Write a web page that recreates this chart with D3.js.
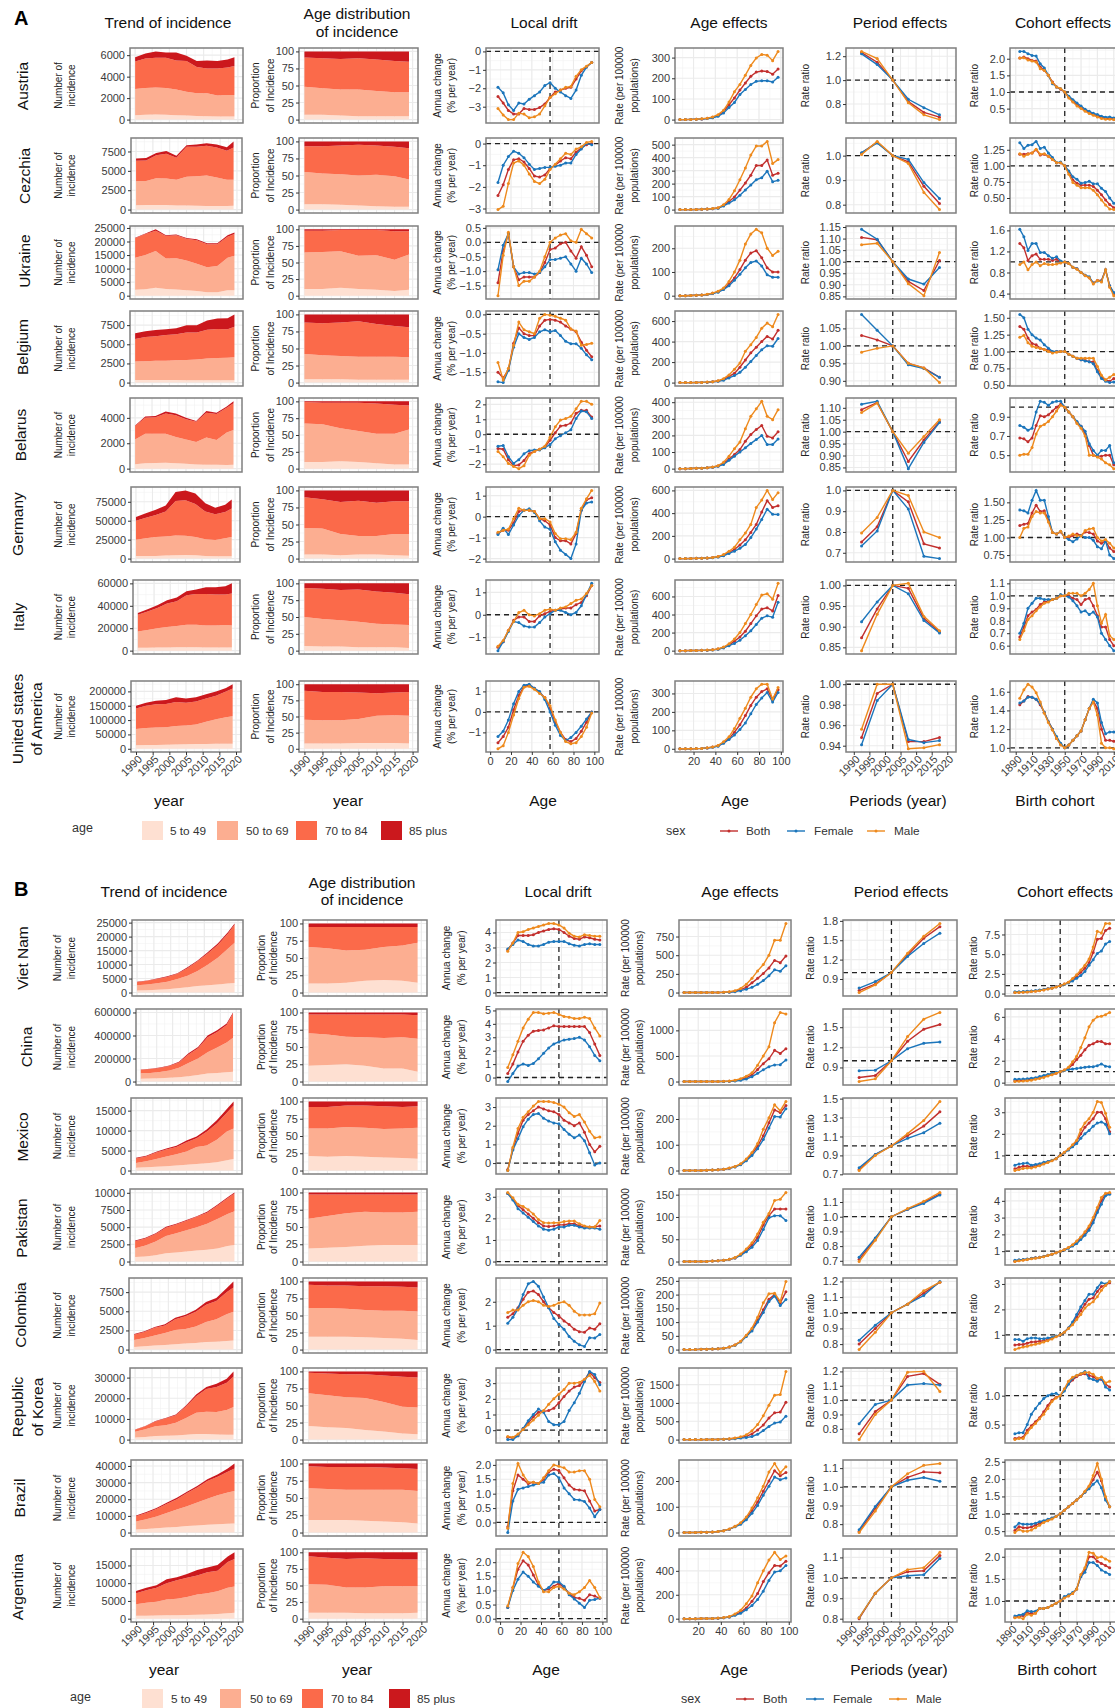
<!DOCTYPE html>
<html>
<head>
<meta charset="utf-8">
<script src="https://cdn.jsdelivr.net/npm/d3@7"></script>
<style>
  body { margin: 0; background: #fff; }
  svg { display: block; font-family: "Liberation Sans", Arial, sans-serif; }
</style>
</head>
<body>
<svg id="chart" width="1115" height="1708"></svg>
<script>
// x values shared by the panels
const trendYears = [1990,1993,1996,1999,2002,2005,2008,2011,2014,2017,2019];
const shareYears = [1990,1995,2000,2005,2010,2015,2019];
const ages = [7.5,12.5,17.5,22.5,27.5,32.5,37.5,42.5,47.5,52.5,57.5,62.5,67.5,72.5,77.5,82.5,87.5,92.5,97.5];
const periods = [1992.5,1997.5,2002.5,2007.5,2012.5,2017.5];
const cohorts = [1895,1900,1905,1910,1915,1920,1925,1930,1935,1940,1945,1950,1955,1960,1965,1970,1975,1980,1985,1990,1995,2000,2005,2010];
const ageGroups = ["5 to 49","50 to 69","70 to 84","85 plus"];
const sexes = ["Both","Female","Male"];

// Trend of incidence: running top of each age band
const austriaTrend = [[400,450,470,450,400,380,330,300,280,280,290],[2850,2950,3000,2950,2800,2600,2450,2450,2250,2300,2300],[5400,5700,5750,5750,5500,5450,4900,4750,4750,4850,5000],[5800,6150,6350,6250,6250,5950,5450,5500,5450,5600,5800]];
const cezchiaTrend = [[550,600,600,580,530,530,500,470,450,450,480],[3650,3700,4050,4000,3850,4250,4300,4400,4150,3850,3850],[6300,6350,7000,7200,6700,8100,8100,8250,8000,7600,8000],[6600,6650,7300,7550,6950,8300,8400,8550,8400,8050,8800]];
const ukraineTrend = [[2200,2400,2900,2500,2300,2000,1700,1300,1300,2000,2000],[14000,15000,16500,13700,13800,13000,11800,10500,11000,14000,14700],[21200,22800,24000,22000,22300,21000,20500,19000,19000,21800,22800],[21400,23000,24500,22300,22600,21300,20800,19400,19400,22300,23300]];
const belgiumTrend = [[330,340,350,330,330,320,320,320,310,300,300],[2750,2800,2850,2850,2900,2950,3000,3150,3200,3250,3300],[5700,5950,6050,6200,6300,6550,6550,6900,7000,6950,7300],[6450,6700,6850,6950,7100,7500,7500,8100,8350,8400,8900]];
const belarusTrend = [[350,420,450,470,420,380,330,300,300,290,300],[2300,2750,2750,2750,2500,2300,2100,2450,2250,2850,3050],[3350,4000,4050,4350,4200,3900,3700,4400,4300,4800,5150],[3400,4100,4150,4500,4350,4000,3750,4550,4400,4900,5300]];
const germanyTrend = [[3500,3500,3500,4000,4500,4800,4500,3500,3000,3000,3000],[25000,27000,28500,29000,30500,30000,28500,25500,24500,27000,28500],[50000,54000,57500,62000,76000,77000,72000,62000,58500,61500,66000],[55000,60000,64500,70000,88000,90000,86000,73000,67000,71000,78000]];
const italyTrend = [[2500,2600,2700,2900,3000,3000,3000,2900,2800,2700,2700],[17000,18500,20000,21000,22000,23000,23000,22500,22500,22800,22500],[32000,35000,38000,42000,44000,49500,50500,50500,50000,50000,51000],[33500,37000,40500,45000,47500,53000,54500,56500,56500,57500,60000]];
const usaTrend = [[12000,13000,13500,14000,15000,15500,16500,17000,17500,17500,17500],[69000,72000,74000,75000,79000,81000,85000,94000,103000,110000,113000],[140000,150000,155000,156000,163000,160000,165000,175000,185000,200000,210000],[150000,160000,167000,170000,180000,175000,180000,190000,200000,212000,225000]];
const vietnamTrend = [[700,800,1000,1200,1500,1900,2300,2600,2900,3200,3400],[2600,2900,3300,3900,4800,6000,7700,9900,12400,15700,17800],[3700,4200,4800,5600,6700,8700,11200,14000,17000,21000,24200],[3900,4350,5000,5800,6900,9000,11500,14400,17500,21600,24700]];
const chinaTrend = [[25000,26000,28000,33000,38000,45000,56000,70000,75000,80000,85000],[72000,75000,82000,95000,120000,160000,200000,255000,295000,340000,380000],[103000,108000,118000,135000,165000,235000,290000,385000,430000,490000,590000],[105000,111000,122000,140000,172000,245000,300000,400000,445000,505000,600000]];
const mexicoTrend = [[700,800,950,1100,1250,1450,1650,1800,2100,2600,2900],[1900,2300,2900,3500,4100,4800,5900,6300,7700,9800,10500],[3000,3500,4500,5300,5900,7100,8100,9700,11800,14500,16300],[3200,3700,4700,5500,6200,7500,8500,10300,12600,15400,17300]];
const pakistanTrend = [[650,750,900,1200,1300,1450,1600,1700,1900,2250,2400],[1950,2350,2900,3700,4100,4550,5000,5500,6200,6900,7300],[2950,3350,4000,4900,5400,5950,6500,7100,8100,9200,9900],[3050,3450,4100,5050,5500,6050,6600,7250,8250,9350,10050]];
const colombiaTrend = [[350,420,520,600,700,780,850,1000,1030,1130,1200],[1250,1500,1850,2150,2550,2700,3000,3600,3950,4600,4950],[1950,2300,2850,3150,3950,4350,4950,5850,6350,7500,8100],[2050,2400,2950,3300,4150,4550,5200,6200,6750,8000,8900]];
const koreaTrend = [[1000,1200,1700,1800,2000,2300,2700,2700,2500,2300,2400],[3800,5000,6400,7000,8200,10500,13000,13500,13300,14300,15800],[4800,6500,8800,10200,11800,16000,21000,24500,25500,27500,30500],[4900,6600,9000,10400,12200,16500,21800,25500,27000,29500,33000]];
const brazilTrend = [[1900,2200,2600,3000,3400,4000,4300,4700,5000,5300,5500],[6700,8000,9700,11800,13800,15800,18000,20300,22400,24000,25000],[9800,11800,14200,17200,20000,23700,27000,31000,33500,36500,38500],[10300,12300,14800,17900,20900,24500,28000,32000,34900,38500,41500]];
const argentinaTrend = [[850,850,900,950,1000,1050,1100,1200,1300,1500,1700],[4100,4500,4800,5400,5600,6100,6800,7200,7700,8700,9100],[7200,8000,8700,10000,10800,11500,12200,13100,13500,16000,16800],[7800,8700,9400,11100,11700,12600,13700,14400,15100,17500,18700]];

// Age distribution: running share at each boundary, the last band reaches 100
const austriaShare = [[7,7,6,5,5,5,5],[48,46,44,44,42,40,40],[91,90,89,90,88,86,85],[100,100,100,100,100,100,100]];
const cezchiaShare = [[8,8,7,6,5,4,4],[55,53,52,50,51,49,44],[93,93,94,95,94,92,90],[100,100,100,100,100,100,100]];
const ukraineShare = [[10,10,12,10,9,7,9],[65,66,67,60,61,54,62],[98,98,99,99,99,97,97],[100,100,100,100,100,100,100]];
const belgiumShare = [[5,5,5,4,4,4,4],[42,40,39,38,38,38,37],[88,87,88,90,86,83,81],[100,100,100,100,100,100,100]];
const belarusShare = [[10,10,11,10,8,6,6],[67,66,60,56,52,52,58],[99,98,98,98,97,95,94],[100,100,100,100,100,100,100]];
const germanyShare = [[6,6,5,6,6,5,4],[45,44,36,33,33,36,36],[90,87,83,85,82,84,84],[100,100,100,100,100,100,100]];
const italyShare = [[7,6,6,5,5,5,4],[50,47,45,43,40,39,38],[93,92,90,91,88,86,84],[100,100,100,100,100,100,100]];
const usaShare = [[8,8,8,9,9,9,8],[45,44,44,46,51,52,51],[90,88,88,87,86,87,88],[100,100,100,100,100,100,100]];
const vietnamShare = [[13,13,14,17,18,17,14],[66,64,61,62,66,68,72],[95,95,95,95,95,95,95],[100,100,100,100,100,100,100]];
const chinaShare = [[23,24,25,23,19,19,14],[70,68,65,64,63,64,62],[97,97,97,97,97,97,96],[100,100,100,100,100,100,100]];
const mexicoShare = [[21,20,21,20,19,18,17],[61,61,63,62,60,61,62],[92,92,94,94,93,92,93],[100,100,100,100,100,100,100]];
const pakistanShare = [[19,20,21,23,24,24,24],[62,66,70,72,71,71,72],[97,97,97,97,97,97,97],[100,100,100,100,100,100,100]];
const colombiaShare = [[19,19,19,18,17,16,14],[61,61,60,58,57,57,56],[95,94,94,93,93,92,91],[100,100,100,100,100,100,100]];
const koreaShare = [[20,18,17,14,12,9,8],[68,65,62,61,55,48,47],[98,97,96,96,94,92,91],[100,100,100,100,100,100,100]];
const brazilShare = [[18,18,18,17,16,15,13],[64,63,62,62,62,62,60],[96,95,95,95,94,93,92],[100,100,100,100,100,100,100]];
const argentinaShare = [[9,9,9,8,8,8,9],[52,51,47,47,49,49,49],[94,92,90,91,90,89,89],[100,100,100,100,100,100,100]];

// Local drift: Both, Female, Male
const austriaDrift = [[-2.45,-2.8,-3.2,-3.4,-3.4,-3.1,-3.15,-3.15,-3.05,-2.85,-2.5,-2.2,-2.1,-2,-1.95,-1.5,-1.05,-.85,-.6],[-1.95,-2.25,-2.9,-3.2,-2.8,-2.85,-2.6,-2.4,-2.2,-1.85,-1.7,-2,-2.2,-2.4,-2.55,-2.1,-1.3,-.85,-.6],[-3.1,-3.45,-3.7,-3.7,-3.35,-3.4,-3.6,-3.55,-3.4,-2.95,-2.5,-2.3,-2.1,-1.95,-1.9,-1.35,-1,-.8,-.6]];
const cezchiaDrift = [[-2.4,-1.9,-1.2,-.75,-.7,-.85,-1.15,-1.5,-1.55,-1.45,-1.15,-1,-.8,-.65,-.7,-.4,-.2,-.05,0],[-1.8,-1,-.6,-.35,-.45,-.65,-.95,-1.2,-1.15,-1.1,-1.1,-1.05,-1,-.9,-.9,-.5,-.25,0,-.05],[-3.05,-2.9,-1.85,-.9,-.8,-1,-1.4,-1.75,-1.85,-1.65,-1.2,-.95,-.7,-.45,-.5,-.25,-.15,.05,.1]];
const ukraineDrift = [[-1.4,-.3,.3,-.85,-1.3,-1.2,-1.2,-1.2,-1.05,-.7,-.25,-.2,-.05,0,-.3,-.55,-.15,-.45,-.85],[-.95,-.1,.3,-.85,-1.1,-1.05,-1.05,-1.1,-1.05,-.85,-.6,-.6,-.55,-.5,-.75,-1,-.55,-.75,-1.05],[-1.85,-.45,.35,-.85,-1.5,-1.35,-1.35,-1.2,-1,-.5,0,.15,.25,.3,.05,0,.45,.3,.15]];
const belgiumDrift = [[-1.5,-1.65,-1.45,-.75,-.35,-.5,-.55,-.55,-.3,-.15,-.13,-.15,-.2,-.3,-.38,-.45,-.72,-.93,-1.1],[-1.75,-1.77,-1.45,-.85,-.5,-.6,-.65,-.6,-.45,-.4,-.45,-.42,-.55,-.7,-.76,-.76,-.88,-1.05,-1.18],[-1.25,-1.7,-1.4,-.8,-.2,-.4,-.45,-.5,-.1,0,-.02,-.05,-.1,-.15,-.38,-.43,-.8,-.78,-.75]];
const belarusDrift = [[-.95,-1,-1.7,-2.1,-2.05,-1.75,-1.3,-1.15,-1,-.85,-.4,.1,.55,.6,.75,1.4,1.6,1.6,1.15],[-.8,-.75,-1.5,-1.95,-1.7,-1.3,-1.1,-1.05,-1.05,-.9,-.7,-.3,-.1,.1,.3,1.05,1.55,1.5,1.05],[-1.15,-1.5,-1.95,-2.15,-2.3,-2.1,-1.4,-1.15,-1,-.8,-.2,.5,.95,1.05,1.2,1.7,2.2,2.2,2]];
const germanyDrift = [[-.8,-.65,-.65,-.3,.25,.3,.3,.25,-.1,-.2,-.4,-1,-1.15,-1.15,-1.3,-.8,.3,.8,.9],[-.85,-.55,-.85,-.4,.05,.3,.38,.2,-.2,-.5,-.6,-1.2,-1.6,-1.8,-2,-1.3,.3,.65,.7],[-.75,-.65,-.6,-.1,.4,.3,.3,.25,-.1,-.1,-.25,-.8,-1.05,-1.05,-1.1,-.75,.4,.85,1.25]];
const italyDrift = [[-1.45,-1.2,-.7,-.25,-.1,-.1,-.3,-.3,-.05,.05,.15,.2,.25,.3,.3,.45,.55,.85,1.3],[-1.6,-1.2,-.75,-.3,-.35,-.5,-.55,-.55,-.35,-.1,.05,.2,.2,.1,0,.1,.4,.9,1.4],[-1.4,-1.15,-.7,-.3,.1,.2,0,-.05,.05,.2,.25,.2,.3,.35,.5,.65,.7,.95,1.3]];
const usaDrift = [[-1.5,-1.2,-.75,.1,.8,1.25,1.3,1.15,.95,.7,.2,-.5,-1,-1.35,-1.45,-1.3,-.95,-.5,0],[-1.2,-.95,-.4,.4,1,1.3,1.35,1.15,1,.6,0,-.65,-1.15,-1.4,-1.25,-1,-.7,-.35,0],[-1.8,-1.65,-1,-.15,.65,1.2,1.25,1.1,.9,.7,.3,-.4,-1,-1.45,-1.55,-1.5,-1.2,-.75,-.05]];
const vietnamDrift = [[2.85,3.3,3.8,3.8,3.8,3.85,4,4.1,4.2,4.25,4.2,4,3.75,3.6,3.55,3.7,3.65,3.55,3.5],[2.9,3.2,3.5,3.4,3.2,3.1,3.1,3.2,3.35,3.4,3.4,3.4,3.25,3.15,3.1,3.2,3.25,3.2,3.2],[2.75,3.3,4,4.05,4.2,4.3,4.4,4.5,4.6,4.6,4.5,4.3,3.95,3.75,3.7,3.85,3.8,3.75,3.75]];
const chinaDrift = [[.3,1,1.9,2.7,3.15,3.45,3.5,3.55,3.7,3.85,3.8,3.8,3.8,3.8,3.8,3.8,3.35,2.5,1.65],[-.3,.3,.85,1,.9,1.05,1.4,1.8,2.2,2.5,2.65,2.8,2.85,2.9,3,2.8,2.3,1.65,1.25],[.75,1.7,2.7,3.7,4.35,4.85,4.85,4.75,4.8,4.85,4.7,4.55,4.5,4.4,4.4,4.5,4.4,3.7,3.1]];
const mexicoDrift = [[-.35,.75,1.6,2.3,2.6,2.8,3,2.9,2.8,2.75,2.6,2.3,2.15,2,2.15,1.65,1,.6,.9],[-.4,.7,1.3,1.95,2.35,2.6,2.65,2.4,2.25,2.15,2.1,1.8,1.55,1.35,1.5,1.2,.55,-.1,0],[-.4,.85,1.85,2.45,2.75,3.05,3.3,3.3,3.3,3.25,3.15,3,2.7,2.5,2.6,2.2,1.7,1.35,1.4]];
const pakistanDrift = [[3.15,2.9,2.6,2.4,2.2,2,1.8,1.65,1.62,1.65,1.7,1.7,1.75,1.75,1.65,1.6,1.6,1.6,1.65],[3.15,2.85,2.45,2.25,2.05,1.85,1.65,1.5,1.45,1.5,1.6,1.6,1.68,1.68,1.6,1.55,1.55,1.55,1.5],[3.2,2.95,2.65,2.55,2.4,2.2,1.95,1.8,1.78,1.8,1.8,1.85,1.88,1.88,1.75,1.65,1.6,1.6,1.9]];
const colombiaDrift = [[1.35,1.5,1.75,2.1,2.4,2.45,2.3,2,1.75,1.55,1.4,1.2,1.05,.85,.75,.72,.9,.85,1.08],[1.1,1.35,1.7,2.3,2.75,2.85,2.65,2.2,1.75,1.3,1.05,.85,.55,.35,.2,.13,.5,.48,.63],[1.55,1.65,1.65,1.85,2,2.05,2,1.85,1.8,1.85,1.95,2,1.85,1.6,1.45,1.45,1.45,1.5,1.95]];
const koreaDrift = [[-.45,-.5,-.35,.1,.45,.85,1.15,1.2,1.25,1.4,1.75,2.15,2.5,2.75,2.85,3.2,3.7,3.35,3.05],[-.6,-.6,-.35,.1,.6,1,1.35,1.15,.55,.35,.35,.55,1.25,1.75,2.35,3.1,3.75,3.55,2.9],[-.4,-.45,-.25,.05,.35,.65,.95,1.25,1.65,2,2.3,2.6,3,3,3.05,3.25,3.5,3.1,2.5]];
const brazilDrift = [[-.15,1.1,1.65,1.5,1.35,1.4,1.35,1.5,1.75,1.85,1.8,1.55,1.3,1.15,1.13,1.1,.75,.4,.45],[-.35,.75,1.15,1.2,1.25,1.3,1.35,1.4,1.65,1.7,1.55,1.2,1,.8,.78,.73,.5,.2,.45],[-.2,1.35,2.05,1.65,1.4,1.4,1.35,1.55,1.8,2,1.95,1.9,1.75,1.75,1.8,1.8,1.5,.8,.55]];
const argentinaDrift = [[.4,1.1,1.75,2.05,1.9,1.55,1.2,1,1.05,1.15,1.25,1.1,.9,.75,.72,.65,.85,.8,.72],[.4,1,1.4,1.65,1.5,1.3,1.15,1,1.1,1.3,1.3,1.15,.85,.7,.55,.4,.65,.68,.73],[.45,1.1,1.95,2.35,2.2,1.85,1.3,.95,.95,1.1,1.15,1.05,.9,.85,.95,1.1,1.35,1.1,.75]];

// Age effects: Both, Female, Male
const austriaAgeFx = [[0,0,1,2,3,6,11,20,38,72,105,143,177,210,230,235,233,220,245],[0,0,1,2,3,5,9,16,32,58,83,122,146,170,185,188,188,182,205],[0,0,1,2,4,7,13,24,45,85,135,170,215,262,298,315,312,285,330]];
const cezchiaAgeFx = [[0,0,0,1,2,4,7,12,33,62,97,150,205,265,340,340,382,265,280],[0,0,0,1,2,4,6,10,28,50,75,110,150,190,230,245,295,215,225],[0,0,0,1,2,5,8,14,38,78,145,230,320,420,490,490,525,355,385]];
const ukraineAgeFx = [[0,0,1,2,3,5,10,17,28,48,75,110,150,180,190,160,118,100,100],[0,0,1,2,3,5,9,15,26,42,65,90,118,140,146,125,88,78,78],[0,0,1,2,3,6,11,19,32,60,100,150,218,260,280,265,200,170,187]];
const belgiumAgeFx = [[0,0,0,1,2,4,8,15,30,60,90,150,220,290,345,400,450,425,510],[0,0,0,1,2,4,7,12,22,45,68,100,150,205,265,320,360,355,430],[0,0,0,1,2,5,9,18,38,75,130,190,305,370,440,530,580,545,665]];
const belarusAgeFx = [[0,0,1,2,3,5,9,16,30,58,85,115,165,205,235,260,195,185,222],[0,0,1,2,3,5,8,14,25,50,75,100,125,152,175,200,145,145,178],[0,0,1,2,3,5,10,18,38,75,120,160,240,315,360,405,315,295,355]];
const germanyAgeFx = [[0,0,1,2,3,5,9,16,30,55,80,120,165,230,300,410,510,450,465],[0,0,1,2,3,5,8,14,25,45,65,90,125,185,260,345,435,390,388],[0,0,1,2,3,6,10,18,35,65,100,165,225,300,450,515,600,520,580]];
const italyAgeFx = [[0,0,1,2,3,5,9,17,35,62,105,150,215,300,385,460,475,440,610],[0,0,1,2,3,5,8,15,30,55,80,115,165,220,290,360,385,370,535],[0,0,1,2,3,6,10,20,40,75,130,200,300,400,510,615,630,570,745]];
const usaAgeFx = [[0,0,0,1,2,4,9,16,32,55,90,130,180,235,280,310,325,265,320],[0,0,0,1,2,4,8,14,30,50,75,105,140,190,240,275,305,253,305],[0,0,0,1,2,5,10,18,38,65,110,165,220,280,325,350,350,270,332]];
const vietnamAgeFx = [[0,0,0,0,0,0,1,3,8,18,40,70,130,190,255,330,430,400,490],[0,0,0,0,0,0,1,2,4,12,25,45,70,110,160,225,305,285,360],[0,0,0,0,0,0,1,4,10,25,55,110,190,290,375,500,700,700,925]];
const chinaAgeFx = [[0,0,0,0,0,0,1,3,8,18,40,75,130,235,350,445,610,550,640],[0,0,0,0,0,0,1,2,5,12,25,50,95,160,230,290,325,330,420],[0,0,0,0,0,0,1,4,10,25,55,105,170,320,500,680,1150,1350,1320]];
const mexicoAgeFx = [[0,0,0,0,1,2,3,5,9,15,24,42,65,95,135,185,235,225,252],[0,0,0,0,1,2,3,5,9,14,22,38,58,85,120,165,210,208,240],[0,0,0,0,1,2,3,5,10,16,26,45,70,105,160,205,255,232,268]];
const pakistanAgeFx = [[0,0,0,0,0,1,2,3,5,8,15,25,37,54,82,103,118,118,118],[0,0,0,0,0,1,2,3,5,8,14,22,32,47,72,98,103,103,92],[0,0,0,0,0,1,2,3,5,9,17,28,42,62,88,108,137,140,155]];
const colombiaAgeFx = [[0,0,0,1,1,2,3,5,9,17,29,50,72,108,145,183,200,170,210],[0,0,0,1,1,2,3,5,9,16,28,48,68,100,135,175,195,160,182],[0,0,0,1,1,2,3,5,9,17,30,52,78,118,170,203,205,175,248]];
const koreaAgeFx = [[0,0,0,0,1,2,5,10,18,35,55,90,155,260,400,590,730,750,1020],[0,0,0,0,1,2,4,8,15,25,40,55,85,145,245,360,450,480,640],[0,0,0,0,1,2,5,12,22,45,75,130,240,410,650,940,1210,1230,1860]];
const brazilAgeFx = [[0,0,0,1,1,2,4,7,13,23,35,55,85,118,160,200,240,220,233],[0,0,0,1,1,2,4,7,13,22,32,50,75,105,145,180,215,205,212],[0,0,0,1,1,2,4,7,14,24,38,60,95,135,180,235,268,232,255]];
const argentinaAgeFx = [[0,0,0,1,1,2,4,8,15,32,55,90,145,210,310,385,445,440,480],[0,0,0,1,1,2,4,7,14,28,45,75,110,160,230,320,390,400,445],[0,0,0,1,1,2,5,9,18,40,70,125,190,300,400,490,555,495,525]];

// Period effects: Both, Female, Male
const austriaPeriod = [[1.23,1.15,1,.82,.73,.69],[1.22,1.13,1,.84,.77,.71],[1.24,1.18,1,.81,.71,.67]];
const cezchiaPeriod = [[1.01,1.055,1,.975,.875,.805],[1.012,1.052,1,.985,.89,.825],[1.005,1.058,1,.968,.85,.78]];
const ukrainePeriod = [[1.105,1.095,1,.915,.875,1.005],[1.14,1.097,1,.925,.903,.975],[1.073,1.08,1,.905,.853,1.04]];
const belgiumPeriod = [[1.03,1.017,1,.95,.937,.91],[1.09,1.045,1,.946,.935,.91],[.982,.993,1,.95,.937,.895]];
const belarusPeriod = [[1.092,1.122,1,.875,.965,1.042],[1.115,1.127,1,.845,.955,1.038],[1.08,1.12,1,.91,.98,1.05]];
const germanyPeriod = [[.752,.825,1,.945,.743,.723],[.733,.805,1,.91,.683,.672],[.795,.87,1,.975,.8,.773]];
const italyPeriod = [[.873,.943,1,.993,.92,.888],[.912,.96,1,.98,.915,.885],[.842,.93,1,1.005,.925,.89]];
const usaPeriod = [[.948,.991,1,.944,.944,.948],[.941,.984,1,.946,.943,.945],[.956,1,1,.937,.938,.941]];
const vietnamPeriod = [[.72,.82,1,1.27,1.53,1.71],[.76,.86,1,1.25,1.45,1.61],[.69,.81,1,1.3,1.56,1.76]];
const chinaPeriod = [[.75,.78,1,1.29,1.47,1.54],[.85,.86,1,1.18,1.26,1.28],[.69,.73,1,1.36,1.62,1.72]];
const mexicoPeriod = [[.75,.91,1,1.11,1.21,1.36],[.77,.91,1,1.08,1.14,1.24],[.74,.9,1,1.13,1.27,1.47]];
const pakistanPeriod = [[.71,.85,1,1.05,1.1,1.155],[.725,.855,1,1.05,1.09,1.148],[.695,.84,1,1.055,1.105,1.165]];
const colombiaPeriod = [[.8,.9,1,1.055,1.125,1.195],[.825,.92,1,1.055,1.11,1.2],[.765,.875,1,1.055,1.14,1.195]];
const koreaPeriod = [[.765,.92,1,1.165,1.185,1.11],[.835,.97,1,1.105,1.115,1.105],[.725,.9,1,1.195,1.2,1.06]];
const brazilPeriod = [[.76,.885,1,1.05,1.08,1.075],[.77,.895,1,1.035,1.05,1.03],[.755,.87,1,1.07,1.115,1.125]];
const argentinaPeriod = [[.8,.925,1,1.03,1.035,1.11],[.805,.925,1,1.01,1.015,1.095],[.805,.925,1,1.04,1.05,1.125]];

// Cohort effects: Both, Female, Male
const austriaCohort = [[2.02,2.05,2,1.95,1.93,1.75,1.65,1.5,1.3,1.15,1.08,1,.85,.72,.62,.53,.45,.38,.33,.28,.24,.2,.2,.18],[2.22,2.22,2.15,2.1,2.08,1.85,1.72,1.5,1.25,1.15,1.1,1,.87,.77,.67,.58,.48,.42,.36,.32,.27,.24,.25,.22],[2.02,2.03,1.96,1.93,1.9,1.7,1.65,1.5,1.28,1.15,1.1,1,.82,.7,.58,.5,.42,.35,.3,.25,.2,.18,.18,.17]];
const cezchiaCohort = [[1.18,1.18,1.19,1.2,1.25,1.17,1.18,1.15,1.1,1.05,1.05,1,.9,.78,.73,.7,.7,.7,.68,.62,.55,.47,.4,.35],[1.36,1.27,1.32,1.33,1.38,1.27,1.29,1.2,1.13,1.05,1.06,1,.92,.83,.79,.73,.74,.76,.72,.72,.65,.6,.5,.42],[1.19,1.15,1.18,1.2,1.26,1.18,1.19,1.15,1.1,1.05,1.05,1,.87,.74,.7,.66,.66,.66,.62,.55,.47,.39,.33,.32]];
const ukraineCohort = [[1.35,1.27,1.03,1.12,1.15,1.05,1.05,1.05,1.03,1.05,1,1,.97,.9,.87,.8,.75,.7,.6,.65,.65,.85,.55,.4],[1.62,1.48,1.22,1.35,1.35,1.18,1.18,1.12,1.07,1.1,1.02,1,.97,.9,.87,.8,.75,.72,.6,.64,.64,.85,.55,.42],[.95,1,.85,.95,1,.93,.97,.95,.95,.96,.98,1,.97,.9,.86,.8,.74,.7,.58,.65,.62,.85,.52,.36]];
const belgiumCohort = [[1.37,1.33,1.2,1.12,1.1,1.05,1.03,1.02,.99,1,1,1,.96,.93,.9,.88,.87,.85,.85,.72,.62,.58,.56,.6],[1.55,1.5,1.33,1.25,1.2,1.17,1.1,1.05,1,1,1,1,.96,.93,.9,.88,.86,.85,.82,.7,.6,.56,.54,.55],[1.21,1.24,1.13,1.08,1.06,1.05,1.03,1,.98,.99,1,1,.96,.93,.9,.9,.9,.9,.9,.78,.65,.58,.62,.66]];
const belarusCohort = [[.68,.67,.64,.68,.81,.91,.9,.92,.96,1,1.03,1,.95,.9,.84,.8,.72,.6,.5,.49,.49,.5,.5,.4],[.81,.79,.76,.78,.95,1.06,1.05,1.02,1.05,1.06,1.06,1,.95,.9,.85,.8,.75,.62,.55,.5,.55,.55,.6,.42],[.5,.51,.51,.58,.72,.8,.82,.85,.9,.96,1.02,1,.95,.9,.83,.78,.7,.5,.5,.48,.46,.42,.4,.36]];
const germanyCohort = [[1.17,1.19,1.2,1.35,1.46,1.37,1.38,1.25,1.07,1.05,1.08,1,1,1.03,1.05,1.03,1.08,1.07,1.05,.95,.92,.95,.85,.8],[1.39,1.38,1.35,1.53,1.67,1.53,1.53,1.3,1.07,1.05,1.09,1,.97,.94,.98,1.03,1,1,.96,.87,.84,.95,.75,.7],[1,1.13,1.15,1.3,1.37,1.35,1.35,1.22,1.07,1.05,1.09,1,1.02,1.05,1.03,1.02,1.1,1.12,1.13,1,.95,.97,.92,.85]];
const italyCohort = [[.67,.75,.84,.87,.89,.93,.95,.96,.97,.98,1,1,1,.98,.97,.93,.97,.98,.92,.84,.75,.75,.65,.6],[.7,.78,.9,.94,.98,.98,.97,.97,.97,.98,1.01,1,.99,.96,.92,.87,.88,.85,.87,.83,.7,.65,.6,.56],[.65,.72,.81,.84,.88,.91,.94,.95,.97,.98,1,1,1.02,1.02,1.02,1,1.02,1.05,1.1,.92,.78,.85,.68,.65]];
const usaCohort = [[1.46,1.5,1.55,1.54,1.52,1.46,1.38,1.28,1.2,1.1,1.04,1,1.03,1.08,1.13,1.18,1.3,1.42,1.5,1.42,1.2,1.08,1.08,1.07],[1.48,1.5,1.54,1.54,1.52,1.47,1.38,1.28,1.2,1.12,1.05,1,1.03,1.08,1.13,1.18,1.3,1.42,1.52,1.48,1.27,1.15,1.17,1.17],[1.53,1.62,1.68,1.65,1.59,1.49,1.37,1.27,1.19,1.1,1.03,1,1.03,1.08,1.13,1.18,1.3,1.42,1.49,1.35,1.05,1,1,.99]];
const vietnamCohort = [[.15,.17,.2,.24,.28,.33,.4,.48,.6,.7,.85,1,1.2,1.4,1.75,2.2,2.7,3.2,3.9,5.2,6.9,7,8,8.3],[.22,.24,.26,.3,.33,.38,.45,.52,.62,.72,.85,1,1.15,1.35,1.6,1.95,2.3,2.8,3.6,4.3,5.1,5.4,6.3,6.6],[.13,.15,.17,.2,.25,.3,.37,.45,.57,.68,.83,1,1.2,1.45,1.9,2.4,3,3.6,4.4,5.9,7.9,7.7,8.9,8.9]];
const chinaCohort = [[.17,.2,.22,.25,.3,.35,.45,.55,.65,.75,.85,1,1.15,1.3,1.65,2.1,2.5,3,3.4,3.55,3.75,3.75,3.55,3.55],[.3,.32,.33,.35,.4,.45,.55,.65,.75,.85,.95,1,1.1,1.2,1.25,1.3,1.35,1.4,1.45,1.45,1.55,1.7,1.5,1.45],[.1,.12,.14,.17,.22,.3,.38,.48,.6,.72,.85,1,1.15,1.4,1.9,2.4,3.2,4.1,5.1,5.7,6,6.05,6.2,6.4]];
const mexicoCohort = [[.38,.45,.5,.5,.48,.52,.57,.63,.7,.77,.85,1,1.13,1.28,1.45,1.65,2,2.3,2.5,2.7,3,3,2.7,2.1],[.55,.6,.63,.65,.55,.58,.62,.68,.72,.78,.85,1,1.12,1.25,1.4,1.55,1.8,2,2.15,2.35,2.5,2.55,2.45,2],[.3,.35,.4,.42,.42,.47,.52,.6,.67,.75,.85,1,1.15,1.3,1.5,1.7,2.2,2.5,2.7,3,3.5,3.45,2.95,2.3]];
const pakistanCohort = [[.4,.45,.48,.52,.56,.6,.63,.68,.75,.82,.9,1,1.08,1.2,1.35,1.55,1.8,2.05,2.4,2.85,3.4,4,4.4,4.45],[.45,.48,.5,.53,.57,.6,.63,.68,.75,.82,.9,1,1.07,1.18,1.3,1.45,1.7,1.95,2.25,2.7,3.3,3.8,4.3,4.4],[.38,.42,.46,.5,.55,.58,.62,.67,.74,.82,.9,1,1.09,1.22,1.38,1.6,1.85,2.15,2.5,3,3.6,4.2,4.45,4.5]];
const colombiaCohort = [[.6,.62,.62,.67,.72,.73,.75,.77,.82,.87,.93,1,1.1,1.27,1.45,1.7,1.95,2.2,2.4,2.45,2.7,2.9,2.95,3.05],[.82,.82,.75,.85,.88,.88,.85,.85,.88,.9,.95,1,1.1,1.27,1.5,1.8,2.1,2.35,2.6,2.6,2.85,3.05,3,3.1],[.42,.48,.52,.55,.6,.63,.67,.72,.77,.84,.92,1,1.1,1.25,1.4,1.6,1.8,2.05,2.2,2.3,2.5,2.75,2.95,3.1]];
const koreaCohort = [[.26,.27,.28,.4,.48,.55,.62,.72,.83,.92,.97,1,1.1,1.2,1.27,1.33,1.37,1.38,1.35,1.33,1.28,1.28,1.2,1.15],[.34,.36,.36,.5,.68,.78,.87,.95,1,1.03,1.04,1,1.08,1.2,1.3,1.35,1.38,1.42,1.3,1.28,1.25,1.3,1.15,1.1],[.24,.26,.26,.36,.45,.52,.6,.68,.78,.9,.96,1,1.12,1.25,1.32,1.35,1.38,1.4,1.4,1.37,1.3,1.32,1.22,1.25]];
const brazilCohort = [[.52,.63,.6,.6,.62,.67,.72,.77,.82,.87,.93,1,1.1,1.2,1.3,1.4,1.5,1.63,1.78,1.98,2.2,1.95,1.45,1.2],[.62,.73,.7,.7,.7,.73,.77,.8,.84,.88,.93,1,1.1,1.2,1.3,1.4,1.5,1.62,1.72,1.85,1.95,1.75,1.4,1.2],[.46,.55,.5,.5,.53,.6,.67,.75,.8,.85,.92,1,1.1,1.2,1.3,1.4,1.5,1.65,1.8,2.1,2.45,2,1.5,1.2]];
const argentinaCohort = [[.63,.65,.67,.73,.72,.73,.83,.83,.85,.9,.95,1,1.08,1.12,1.17,1.27,1.55,1.72,2,2,1.9,1.85,1.8,1.75],[.66,.68,.7,.78,.76,.77,.83,.83,.85,.9,.95,1,1.1,1.14,1.19,1.27,1.55,1.65,1.87,1.87,1.8,1.7,1.65,1.6],[.62,.63,.6,.7,.68,.72,.83,.83,.85,.9,.95,1,1.07,1.11,1.17,1.27,1.6,1.75,2.1,2.08,1.98,2,1.95,1.9]];

// y tick labels, one list per country, A then B
const trendTicks = [[0,2000,4000,6000],[0,2500,5000,7500],[0,5000,10000,15000,20000,25000],[0,2500,5000,7500],[0,2000,4000],[0,25000,50000,75000],[0,20000,40000,60000],[0,50000,100000,150000,200000],
  [0,5000,10000,15000,20000,25000],[0,200000,400000,600000],[0,5000,10000,15000],[0,2500,5000,7500,10000],[0,2500,5000,7500],[0,10000,20000,30000],[0,10000,20000,30000,40000],[0,5000,10000,15000]];
const shareTicks = [0,25,50,75,100];
const driftTicks = [[-3,-2,-1,0],[-3,-2,-1,0],[-1.5,-1,-.5,0,.5],[-1.5,-1,-.5,0],[-2,-1,0,1,2],[-2,-1,0,1],[-1,0,1],[-1,0,1],
  [0,1,2,3,4],[0,1,2,3,4,5],[0,1,2,3],[0,1,2,3],[0,1,2],[0,1,2,3],[0,.5,1,1.5,2],[0,.5,1,1.5,2]];
const ageFxTicks = [[0,100,200,300],[0,100,200,300,400,500],[0,100,200],[0,200,400,600],[0,100,200,300,400],[0,200,400,600],[0,200,400,600],[0,100,200,300],
  [0,250,500,750],[0,500,1000],[0,100,200],[0,50,100,150],[0,50,100,150,200,250],[0,500,1000,1500],[0,100,200],[0,200,400]];
const periodTicks = [[.8,1,1.2],[.8,.9,1],[.85,.9,.95,1,1.05,1.1,1.15],[.9,.95,1,1.05],[.85,.9,.95,1,1.05,1.1],[.7,.8,.9,1],[.85,.9,.95,1],[.94,.96,.98,1],
  [.9,1.2,1.5,1.8],[.9,1.2,1.5],[.7,.9,1.1,1.3,1.5],[.7,.8,.9,1,1.1],[.8,.9,1,1.1,1.2],[.8,.9,1,1.1,1.2],[.8,.9,1,1.1],[.8,.9,1,1.1]];
const cohortTicks = [[.5,1,1.5,2],[.5,.75,1,1.25],[.4,.8,1.2,1.6],[.5,.75,1,1.25,1.5],[.5,.7,.9],[.75,1,1.25,1.5],[.6,.7,.8,.9,1,1.1],[1,1.2,1.4,1.6],
  [0,2.5,5,7.5],[0,2,4,6],[1,2,3],[1,2,3,4],[1,2,3],[.5,1],[.5,1,1.5,2,2.5],[1,1.5,2]];

const countriesA = [["Austria"],["Cezchia"],["Ukraine"],["Belgium"],["Belarus"],["Germany"],["Italy"],["United states","of America"]];
const countriesB = [["Viet Nam"],["China"],["Mexico"],["Pakistan"],["Colombia"],["Republic","of Korea"],["Brazil"],["Argentina"]];
const trendsAll = [austriaTrend,cezchiaTrend,ukraineTrend,belgiumTrend,belarusTrend,germanyTrend,italyTrend,usaTrend,vietnamTrend,chinaTrend,mexicoTrend,pakistanTrend,colombiaTrend,koreaTrend,brazilTrend,argentinaTrend];
const sharesAll = [austriaShare,cezchiaShare,ukraineShare,belgiumShare,belarusShare,germanyShare,italyShare,usaShare,vietnamShare,chinaShare,mexicoShare,pakistanShare,colombiaShare,koreaShare,brazilShare,argentinaShare];
const driftsAll = [austriaDrift,cezchiaDrift,ukraineDrift,belgiumDrift,belarusDrift,germanyDrift,italyDrift,usaDrift,vietnamDrift,chinaDrift,mexicoDrift,pakistanDrift,colombiaDrift,koreaDrift,brazilDrift,argentinaDrift];
const ageFxAll = [austriaAgeFx,cezchiaAgeFx,ukraineAgeFx,belgiumAgeFx,belarusAgeFx,germanyAgeFx,italyAgeFx,usaAgeFx,vietnamAgeFx,chinaAgeFx,mexicoAgeFx,pakistanAgeFx,colombiaAgeFx,koreaAgeFx,brazilAgeFx,argentinaAgeFx];
const periodsAll = [austriaPeriod,cezchiaPeriod,ukrainePeriod,belgiumPeriod,belarusPeriod,germanyPeriod,italyPeriod,usaPeriod,vietnamPeriod,chinaPeriod,mexicoPeriod,pakistanPeriod,colombiaPeriod,koreaPeriod,brazilPeriod,argentinaPeriod];
const cohortsAll = [austriaCohort,cezchiaCohort,ukraineCohort,belgiumCohort,belarusCohort,germanyCohort,italyCohort,usaCohort,vietnamCohort,chinaCohort,mexicoCohort,pakistanCohort,colombiaCohort,koreaCohort,brazilCohort,argentinaCohort];

const bandColors = ["#fee0d2","#fcae91","#fb6a4a","#cb181d"];
const sexColors = ["#c22f2d","#1b75bb","#ee8a1d"];
const figures = [
  {
    letter: "A", letterPos: [14,25], first: 0, names: countriesA,
    rows: [[48,123],[138,213],[226,299],[311,386],[398,472],[487,562],[580,654],[681,752]],
    trendLeft: [130,131,130,130,130,131,133,131], trendRight: [243,242,243,243,242,240,240,241],
    cols: [null,[299,418],[486,599],[675,783],[846,956],[1010,1126]],
    nameX: [[22],[24],[24],[22],[20],[17],[18],[17,36]],
    nameY: [86,176,261,347,435,524,617,719],
    ylabX: [[58,71],[255,270],[437,451],[619,634],[805],[974]],
    titleX: [168,357,544,729,900,1063], titleY: 22, title2Y: [13,31],
    xlabX: [169,348,543,735,898,1055], xlabY: 806,
    legendY: 831, ageLabel: [72,828], swatchX: [142,217,296,381], swatchTextX: [170,246,325,409], swatchY: 821,
    sexLabelX: 666, sexLineX: [720,787,867], sexTextX: [746,814,894]
  },
  {
    letter: "B", letterPos: [14,896], first: 8, names: countriesB,
    rows: [[920,996],[1009,1085],[1098,1174],[1189,1265],[1278,1353],[1368,1443],[1460,1536],[1549,1622]],
    trendLeft: [132,136,131,130,129,130,131,131], trendRight: [243,241,242,243,242,242,243,243],
    cols: [null,[303,427],[496,607],[679,791],[843,957],[1005,1122]],
    nameX: [[22],[26],[22],[21],[20],[17,37],[19],[17]],
    nameY: [958,1047,1137,1228,1315,1407,1498,1587],
    ylabX: [[57,71],[261,273],[446,461],[625,639],[810],[973]],
    titleX: [164,362,558,740,901,1065], titleY: 891, title2Y: [882,899],
    xlabX: [164,357,546,734,899,1057], xlabY: 1675,
    legendY: 1699, ageLabel: [70,1697], swatchX: [142,220,302,389], swatchTextX: [171,250,331,417], swatchY: 1689,
    sexLabelX: 681, sexLineX: [736,806,889], sexTextX: [763,833,916]
  }
];

const titles = [["Trend of incidence"],["Age distribution","of incidence"],["Local drift"],["Age effects"],["Period effects"],["Cohort effects"]];
const xLabels = ["year","year","Age","Age","Periods (year)","Birth cohort"];
const yLabels = [["Number of","incidence"],["Proportion","of Incidence"],["Annua change","(% per year)"],["Rate (per 100000","populations)"],["Rate ratio"],["Rate ratio"]];

// x axis setup per column: domain, tick labels and grid steps
const yearTicks = d3.range(1990,2021,5);
const xSpecs = [
  { domain: [1988.5,2021.5], ticks: yearTicks, minor: 2.5, rotate: true },
  { domain: [1988.5,2021.5], ticks: yearTicks, minor: 2.5, rotate: true },
  { domain: [-4,104.5], ticks: [0,20,40,60,80,100], minor: 10, vline: 57.5, hline: 0 },
  { domain: [3,102], ticks: [20,40,60,80,100], minor: 10 },
  { domain: [1987.5,2022.8], ticks: yearTicks, minor: 2.5, rotate: true, vline: 2002.5, hline: 1 },
  { domain: [1883,2025], ticks: [1890,1910,1930,1950,1970,1990,2010], minor: 10, rotate: true, vline: 1950, hline: 1 }
];

const svg = d3.select("#chart");
const tickFont = 11;

function tickFormat(ticks) {
  const dec = d3.max(ticks, t => (String(t).split(".")[1] || "").length);
  return d3.format(`.${dec}f`);
}

function multiline(g, x, y, lines, size, rotated, color) {
  lines.forEach((line, i) => {
    const lx = Array.isArray(x) ? x[i] : x;
    const t = g.append("text")
      .text(line)
      .attr("text-anchor", "middle")
      .attr("font-size", size)
      .attr("fill", color);
    if (rotated) {
      t.attr("transform", `translate(${lx + size * 0.36},${y}) rotate(-90)`);
    } else {
      t.attr("x", lx).attr("y", y[i] + size * 0.36);
    }
  });
}

function drawPanel(g, box, col, ticks, isLast) {
  const spec = xSpecs[col];
  const x = d3.scaleLinear().domain(spec.domain).range([box.x0, box.x1]);
  // bands start at zero, the reference line also counts towards the range
  const extra = col < 2 ? [0] : (spec.hline === undefined ? [] : [spec.hline]);
  const all = box.series.flat().concat(extra);
  const lo = d3.min(all);
  const hi = d3.max(all);
  const pad = (hi - lo) * 0.05;
  const y = d3.scaleLinear().domain([lo - pad, hi + pad]).range([box.y1, box.y0]);

  // theme_bw style grid
  const [dx0, dx1] = spec.domain;
  const grid = g.append("g");
  const xMinor = d3.range(1880, 2040, spec.minor).concat(d3.range(-100, 200, spec.minor))
    .filter(v => v >= dx0 && v <= dx1);
  const step = ticks.length > 1 ? ticks[1] - ticks[0] : 1;
  const yMinor = d3.range(ticks[0] - step / 2, ticks[ticks.length - 1] + step, step)
    .filter(v => v >= lo - pad && v <= hi + pad);
  grid.selectAll(".xm").data(xMinor).join("line")
    .attr("x1", x).attr("x2", x).attr("y1", box.y0).attr("y2", box.y1)
    .attr("stroke", "#f2f2f2").attr("stroke-width", 0.6);
  grid.selectAll(".ym").data(yMinor).join("line")
    .attr("y1", y).attr("y2", y).attr("x1", box.x0).attr("x2", box.x1)
    .attr("stroke", "#f2f2f2").attr("stroke-width", 0.6);
  grid.selectAll(".xj").data(spec.ticks).join("line")
    .attr("x1", x).attr("x2", x).attr("y1", box.y0).attr("y2", box.y1)
    .attr("stroke", "#ebebeb").attr("stroke-width", 1.1);
  grid.selectAll(".yj").data(ticks).join("line")
    .attr("y1", y).attr("y2", y).attr("x1", box.x0).attr("x2", box.x1)
    .attr("stroke", "#ebebeb").attr("stroke-width", 1.1);

  if (col < 2) {
    // stacked bands, series hold the running top of each band
    box.series.forEach((top, i) => {
      const prev = i ? box.series[i - 1] : top.map(() => 0);
      const area = d3.area()
        .x((d, k) => x(box.xs[k]))
        .y0((d, k) => y(prev[k]))
        .y1(d => y(d));
      g.append("path").datum(top).attr("d", area).attr("fill", bandColors[i]);
    });
  } else {
    if (spec.hline !== undefined) {
      g.append("line").attr("x1", box.x0).attr("x2", box.x1)
        .attr("y1", y(spec.hline)).attr("y2", y(spec.hline))
        .attr("stroke", "#222").attr("stroke-width", 1.3).attr("stroke-dasharray", "5,4");
      g.append("line").attr("x1", x(spec.vline)).attr("x2", x(spec.vline))
        .attr("y1", box.y0).attr("y2", box.y1)
        .attr("stroke", "#222").attr("stroke-width", 1.3).attr("stroke-dasharray", "5,4");
    }
    const line = d3.line().x((d, k) => x(box.xs[k])).y(d => y(d));
    box.series.forEach((vals, i) => {
      g.append("path").datum(vals).attr("d", line)
        .attr("fill", "none").attr("stroke", sexColors[i]).attr("stroke-width", 1.4);
      g.selectAll(null).data(vals).join("circle")
        .attr("cx", (d, k) => x(box.xs[k])).attr("cy", d => y(d)).attr("r", 1.5)
        .attr("fill", sexColors[i]);
    });
  }

  g.append("rect")
    .attr("x", box.x0).attr("y", box.y0)
    .attr("width", box.x1 - box.x0).attr("height", box.y1 - box.y0)
    .attr("fill", "none").attr("stroke", "#7f7f7f").attr("stroke-width", 1.5);

  const yAxis = d3.axisLeft(y).tickValues(ticks).tickSize(3).tickPadding(2).tickFormat(tickFormat(ticks));
  const ya = g.append("g").attr("transform", `translate(${box.x0},0)`).call(yAxis);
  ya.select(".domain").remove();
  ya.selectAll("line").attr("stroke", "#333");
  ya.selectAll("text").attr("font-size", tickFont).attr("font-family", "inherit").attr("fill", "#3a3a3a");

  if (isLast) {
    const xAxis = d3.axisBottom(x).tickValues(spec.ticks).tickSize(3).tickPadding(2).tickFormat(d3.format("d"));
    const xa = g.append("g").attr("transform", `translate(0,${box.y1})`).call(xAxis);
    xa.select(".domain").remove();
    xa.selectAll("line").attr("stroke", "#333");
    const labels = xa.selectAll("text").attr("font-size", tickFont).attr("font-family", "inherit").attr("fill", "#3a3a3a");
    if (spec.rotate) {
      labels.attr("text-anchor", "end").attr("dx", "-0.1em").attr("dy", "0.45em")
        .attr("transform", "rotate(-45)");
    }
  }
}

function drawLegend(fig) {
  const g = svg.append("g");
  g.append("text").text("age").attr("x", fig.ageLabel[0]).attr("y", fig.ageLabel[1] + 4)
    .attr("font-size", 12.5).attr("fill", "#333");
  ageGroups.forEach((name, i) => {
    g.append("rect").attr("x", fig.swatchX[i]).attr("y", fig.swatchY)
      .attr("width", 21).attr("height", 19).attr("fill", bandColors[i]);
    g.append("text").text(name).attr("x", fig.swatchTextX[i]).attr("y", fig.legendY + 4)
      .attr("font-size", 11.8).attr("fill", "#333");
  });
  g.append("text").text("sex").attr("x", fig.sexLabelX).attr("y", fig.legendY + 4)
    .attr("font-size", 12.5).attr("fill", "#333");
  sexes.forEach((name, i) => {
    const lx = fig.sexLineX[i];
    g.append("line").attr("x1", lx).attr("x2", lx + 18).attr("y1", fig.legendY).attr("y2", fig.legendY)
      .attr("stroke", sexColors[i]).attr("stroke-width", 1.4);
    g.append("circle").attr("cx", lx + 9).attr("cy", fig.legendY).attr("r", 1.5).attr("fill", sexColors[i]);
    g.append("text").text(name).attr("x", fig.sexTextX[i]).attr("y", fig.legendY + 4)
      .attr("font-size", 11.8).attr("fill", "#333");
  });
}

figures.forEach(fig => {
  const g = svg.append("g");
  g.append("text").text(fig.letter).attr("x", fig.letterPos[0]).attr("y", fig.letterPos[1])
    .attr("font-size", 20).attr("font-weight", "bold").attr("fill", "#000");

  titles.forEach((lines, c) => {
    const ys = lines.length > 1 ? fig.title2Y : [fig.titleY];
    multiline(g, fig.titleX[c], ys, lines, 15.5, false, "#111");
    g.append("text").text(xLabels[c]).attr("x", fig.xlabX[c]).attr("y", fig.xlabY)
      .attr("text-anchor", "middle").attr("font-size", 15.5).attr("fill", "#111");
  });

  fig.names.forEach((name, r) => {
    multiline(g, fig.nameX[r], fig.nameY[r], name, 15.5, true, "#111");
    const idx = fig.first + r;
    const [y0, y1] = fig.rows[r];
    const mid = (y0 + y1) / 2;
    const panels = [
      { xs: trendYears, series: trendsAll[idx], ticks: trendTicks[idx] },
      { xs: shareYears, series: sharesAll[idx], ticks: shareTicks },
      { xs: ages, series: driftsAll[idx], ticks: driftTicks[idx] },
      { xs: ages, series: ageFxAll[idx], ticks: ageFxTicks[idx] },
      { xs: periods, series: periodsAll[idx], ticks: periodTicks[idx] },
      { xs: cohorts, series: cohortsAll[idx], ticks: cohortTicks[idx] }
    ];
    panels.forEach((p, c) => {
      const span = c === 0 ? [fig.trendLeft[r], fig.trendRight[r]] : fig.cols[c];
      const box = { x0: span[0], x1: span[1], y0, y1, xs: p.xs, series: p.series };
      drawPanel(g.append("g"), box, c, p.ticks, r === 7);
      multiline(g, fig.ylabX[c], mid, yLabels[c], 10, true, "#222");
    });
  });
  drawLegend(fig);
});
</script>
</body>
</html>
